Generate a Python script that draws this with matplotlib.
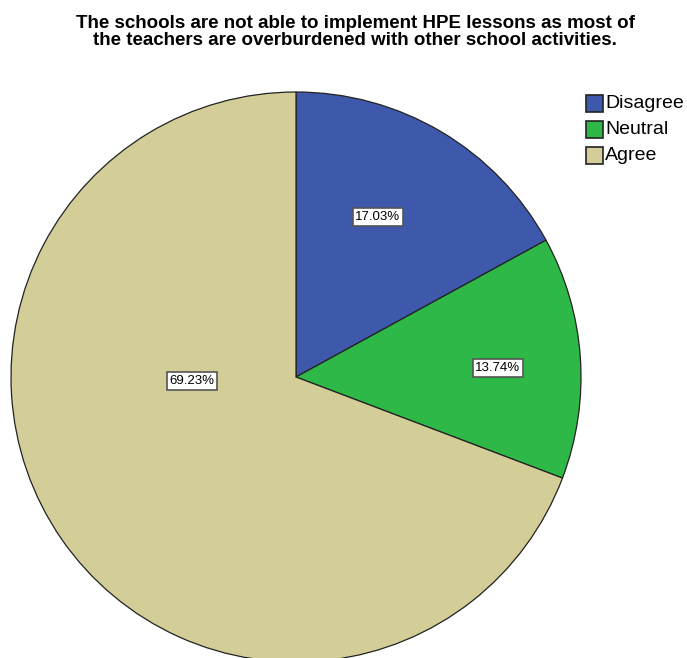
import matplotlib.pyplot as plt
from matplotlib.patches import Rectangle

categories = ["Disagree", "Neutral", "Agree"]
percents = [17.03, 13.74, 69.23]
colors = ["#3e58ac", "#2eb848", "#d3ce97"]
title = ("The schools are not able to implement HPE lessons as most of\n"
         "the teachers are overburdened with other school activities.")

plt.rcParams['font.family'] = ['Liberation Sans', 'DejaVu Sans']

W, H = 687, 658
fig = plt.figure(figsize=(W / 100, H / 100), dpi=100)
ax = fig.add_axes([0, 0, 1, 1])

# pie in pixel units, top-down y converted to bottom-up
cx, cy, r = 296, H - 377, 285
wedges, _ = ax.pie(percents, colors=colors, startangle=90, counterclock=False,
                   center=(cx, cy), radius=r, frame=True,
                   wedgeprops=dict(edgecolor='#222222', linewidth=0.9))
ax.set_xlim(0, W)
ax.set_ylim(0, H)
ax.set_aspect('equal')
ax.axis('off')

# label spots, offsets from the centre in pixels
label_pos = [(82, 160), (202, 9), (-104, -4)]
for p, (dx, dy) in zip(percents, label_pos):
    ax.text(cx + dx, cy + dy, f"{p:.2f}%", ha='center', va='center', fontsize=9.5,
            bbox=dict(boxstyle='square,pad=0.2', fc='white', ec='#555555', lw=1.2))

fig.text(355 / W, 1 - 32 / H, title, ha='center', va='center', fontsize=13.5,
         fontweight='bold', linespacing=1.0)

# legend
for i, (name, c) in enumerate(zip(categories, colors)):
    y = H - (103 + 26 * i)
    ax.add_patch(Rectangle((586, y - 8.5), 17, 17, fc=c, ec='#222222', lw=1.2))
    ax.text(605, y, name, ha='left', va='center', fontsize=14)

fig.savefig("out.png", dpi=100)
